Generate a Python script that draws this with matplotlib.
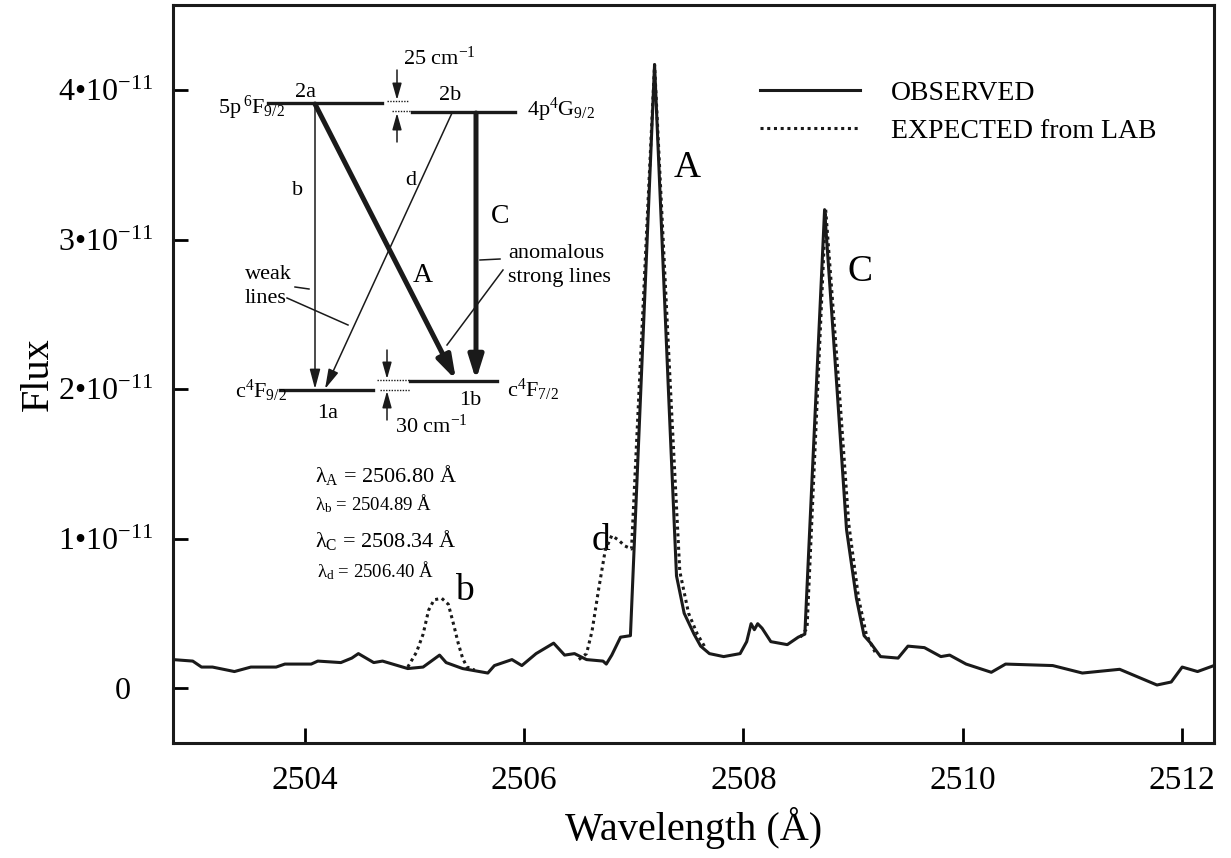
import numpy as np
import matplotlib
matplotlib.use('Agg')
import matplotlib.pyplot as plt
import matplotlib.transforms as mtransforms

plt.rcParams['font.family'] = ['Liberation Serif', 'DejaVu Serif']
plt.rcParams['mathtext.fontset'] = 'custom'
plt.rcParams['mathtext.rm'] = 'Liberation Serif'
plt.rcParams['mathtext.it'] = 'Liberation Serif:italic'
plt.rcParams['mathtext.bf'] = 'Liberation Serif:bold'

# espectro observado (fluxo em unidades de 1e-11)
obs_wave = [2502.80, 2502.98, 2503.06, 2503.16, 2503.36, 2503.51, 2503.74, 2503.82,
            2504.06, 2504.12, 2504.33, 2504.43, 2504.49, 2504.63, 2504.71, 2504.94,
            2505.08, 2505.23, 2505.29, 2505.44, 2505.67, 2505.73, 2505.89, 2505.98,
            2506.11, 2506.27, 2506.37, 2506.46, 2506.57, 2506.72, 2506.75, 2506.80,
            2506.84, 2506.88, 2506.97, 2507.19, 2507.32, 2507.39, 2507.46, 2507.55,
            2507.61, 2507.69, 2507.82, 2507.97, 2508.03, 2508.07, 2508.10, 2508.13,
            2508.17, 2508.25, 2508.40, 2508.50, 2508.56, 2508.74, 2508.86, 2508.94,
            2509.03, 2509.10, 2509.16, 2509.25, 2509.41, 2509.50, 2509.65, 2509.80,
            2509.88, 2510.03, 2510.26, 2510.39, 2510.82, 2511.09, 2511.43, 2511.77,
            2511.90, 2512.00, 2512.14, 2512.29]
obs_flux = [0.19, 0.18, 0.14, 0.14, 0.11, 0.14, 0.14, 0.16,
            0.16, 0.18, 0.17, 0.20, 0.23, 0.17, 0.18, 0.13,
            0.14, 0.22, 0.17, 0.13, 0.10, 0.15, 0.19, 0.15,
            0.23, 0.30, 0.22, 0.23, 0.19, 0.18, 0.16, 0.22,
            0.28, 0.34, 0.35, 4.17, 1.93, 0.75, 0.50, 0.36,
            0.28, 0.23, 0.21, 0.23, 0.31, 0.43, 0.39, 0.43,
            0.40, 0.31, 0.29, 0.34, 0.36, 3.20, 1.93, 1.06,
            0.60, 0.35, 0.30, 0.21, 0.20, 0.28, 0.27, 0.21,
            0.22, 0.16, 0.105, 0.16, 0.15, 0.10, 0.125, 0.02,
            0.04, 0.14, 0.11, 0.15]

# perfil esperado do laboratorio (so onde difere do observado)
exp_b_wave = [2504.94, 2505.02, 2505.08, 2505.13, 2505.18, 2505.25, 2505.31,
              2505.36, 2505.40, 2505.44, 2505.48, 2505.55]
exp_b_flux = [0.14, 0.24, 0.36, 0.52, 0.59, 0.60, 0.56, 0.42, 0.30, 0.20, 0.14, 0.12]

exp_dA_wave = [2506.50, 2506.57, 2506.62, 2506.68, 2506.74, 2506.80, 2506.86,
               2506.92, 2506.98, 2507.19, 2507.34, 2507.42, 2507.50, 2507.58, 2507.66]
exp_dA_flux = [0.19, 0.23, 0.38, 0.66, 0.92, 1.02, 0.99, 0.95, 0.93, 4.17, 1.93,
               0.78, 0.50, 0.36, 0.26]

exp_C_wave = [2508.52, 2508.58, 2508.75, 2508.88, 2508.96, 2509.05, 2509.12, 2509.20]
exp_C_flux = [0.34, 0.40, 3.20, 1.93, 1.10, 0.60, 0.36, 0.24]

xticks = [2504, 2506, 2508, 2510, 2512]
yticks = [0, 1, 2, 3, 4]
ytick_labels = ['0'] + [f'{v}\u2022' + r'10$^{\mathregular{-11}}$' for v in yticks[1:]]

# rotulos dos picos: (texto, comprimento de onda, fluxo)
peak_labels = [('A', 2507.485, 3.42), ('C', 2509.06, 2.72),
               ('d', 2506.70, 0.92), ('b', 2505.46, 0.59)]

fig = plt.figure(figsize=(12.31, 8.58), dpi=100)
ax = fig.add_axes([173 / 1231, 1 - 743 / 858, (1214 - 173) / 1231, (743 - 5) / 858])

dot = (0, (1, 1.2))
ax.plot(obs_wave, obs_flux, color='#1a1a1a', lw=2.2, label='OBSERVED', zorder=3)
ax.plot(exp_b_wave, exp_b_flux, color='#1a1a1a', lw=2.2, ls=dot,
        label='EXPECTED from LAB', zorder=4)
ax.plot(exp_dA_wave, exp_dA_flux, color='#1a1a1a', lw=2.2, ls=dot, zorder=4)
ax.plot(exp_C_wave, exp_C_flux, color='#1a1a1a', lw=2.2, ls=dot, zorder=4)

for txt, wl, fl in peak_labels:
    ax.text(wl, fl, txt, fontsize=27, ha='center', va='baseline')

ax.set_xlim(2502.80, 2512.29)
ax.set_ylim(-0.368, 4.569)
ax.set_xticks(xticks)
ax.set_yticks(yticks)
ax.set_yticklabels(ytick_labels)
ax.tick_params(axis='both', direction='in', length=11, width=2)
ax.tick_params(axis='x', pad=16, labelsize=24)
ax.tick_params(axis='y', pad=14, labelsize=23)
for s in ax.spines.values():
    s.set_linewidth(2.2)
    s.set_color('#1a1a1a')

ax.set_xlabel('Wavelength (Å)', fontsize=29, labelpad=8)
ax.set_ylabel('Flux', fontsize=29, va='center')
ax.yaxis.set_label_coords(-0.129, 0.5)

ax.legend(loc='center left', bbox_to_anchor=(760 / 1231, 1 - 112 / 858),
          bbox_transform=fig.transFigure, frameon=False, fontsize=20,
          handlelength=3.6, handletextpad=1.1, labelspacing=0.45,
          borderpad=0, borderaxespad=0)

# deslocar o "0" para a esquerda como no original
lab0 = ax.get_yticklabels()[0]
lab0.set_transform(lab0.get_transform() +
                   mtransforms.ScaledTranslation(-0.23, 0, fig.dpi_scale_trans))

# ---- diagrama de niveis (coordenadas em pixels da figura) ----
d = fig.add_axes([0, 0, 1, 1], facecolor='none')
d.set_xlim(0, 1231)
d.set_ylim(858, 0)
d.axis('off')
k = '#1a1a1a'

# niveis
d.plot([268, 382], [103, 103], color=k, lw=2.4)
d.plot([412, 515], [112, 112], color=k, lw=2.4)
d.plot([280, 373], [390, 390], color=k, lw=2.4)
d.plot([410, 497], [381, 381], color=k, lw=2.4)
# pontilhados entre niveis
d.plot([387, 408], [101, 101], color=k, lw=1.0, ls=(0, (1, 1)))
d.plot([392, 410], [111, 111], color=k, lw=1.0, ls=(0, (1, 1)))
d.plot([377, 410], [380, 380], color=k, lw=1.0, ls=(0, (1, 1)))
d.plot([380, 410], [390, 390], color=k, lw=1.0, ls=(0, (1, 1)))


def seta(x0, y0, x1, y1, lw, hl, hw):
    d.annotate('', xy=(x1, y1), xytext=(x0, y0),
               arrowprops=dict(arrowstyle=f'-|>,head_length={hl},head_width={hw}',
                               lw=lw, color=k, shrinkA=0, shrinkB=0,
                               mutation_scale=20))


# transicoes
seta(315, 103, 315, 389, 1.1, 0.6, 0.16)      # b
seta(452, 113, 325, 389, 1.1, 0.6, 0.16)      # d
seta(315, 104, 456, 380, 3.6, 0.7, 0.22)      # A
seta(476, 113, 476, 380, 3.6, 0.7, 0.22)      # C
# setas de separacao
seta(397, 70, 397, 100, 1.1, 0.5, 0.14)
seta(397, 142, 397, 113, 1.1, 0.5, 0.14)
seta(387, 350, 387, 379, 1.1, 0.5, 0.14)
seta(387, 420, 387, 391, 1.1, 0.5, 0.14)

# linhas indicadoras
d.plot([480, 500], [260, 259], color=k, lw=1.1)
d.plot([503, 447], [270, 345], color=k, lw=1.1)
d.plot([295, 309], [287, 289], color=k, lw=1.1)
d.plot([287, 348], [298, 325], color=k, lw=1.1)

fs = 16
d.text(218, 114, r'5p$\,^{\mathregular{6}}$F$_{\mathregular{9/2}}$', fontsize=fs, va='baseline')
d.text(527, 116, r'4p$^{\mathregular{4}}$G$_{\mathregular{9/2}}$', fontsize=fs, va='baseline')
d.text(235, 398, r'c$^{\mathregular{4}}$F$_{\mathregular{9/2}}$', fontsize=fs, va='baseline')
d.text(507, 397, r'c$^{\mathregular{4}}$F$_{\mathregular{7/2}}$', fontsize=fs, va='baseline')
d.text(306, 97, '2a', fontsize=fs, ha='center', va='baseline')
d.text(450, 100, '2b', fontsize=fs, ha='center', va='baseline')
d.text(328, 418, '1a', fontsize=fs, ha='center', va='baseline')
d.text(470, 405, '1b', fontsize=fs, ha='center', va='baseline')
d.text(403, 65, r'25 cm$^{\mathregular{-1}}$', fontsize=fs, va='baseline')
d.text(395, 433, r'30 cm$^{\mathregular{-1}}$', fontsize=fs, va='baseline')
d.text(298, 195, 'b', fontsize=fs, ha='center', va='baseline')
d.text(411, 185, 'd', fontsize=fs, ha='center', va='baseline')
d.text(500, 223, 'C', fontsize=20, ha='center', va='baseline')
d.text(423, 282, 'A', fontsize=20, ha='center', va='baseline')
d.text(245, 279, 'weak', fontsize=fs, va='baseline')
d.text(245, 303, 'lines', fontsize=fs, va='baseline')
d.text(508, 258, 'anomalous', fontsize=fs, va='baseline')
d.text(508, 282, 'strong lines', fontsize=fs, va='baseline')

d.text(315, 482, r'λ$_{\mathregular{A}}$ = 2506.80 Å', fontsize=16, va='baseline')
d.text(315, 510, r'λ$_{\mathregular{b}}$ = 2504.89 Å', fontsize=13.5, va='baseline')
d.text(315, 547, r'λ$_{\mathregular{C}}$ = 2508.34 Å', fontsize=16, va='baseline')
d.text(317, 577, r'λ$_{\mathregular{d}}$ = 2506.40 Å', fontsize=13.5, va='baseline')

fig.savefig('out.png', dpi=100)
